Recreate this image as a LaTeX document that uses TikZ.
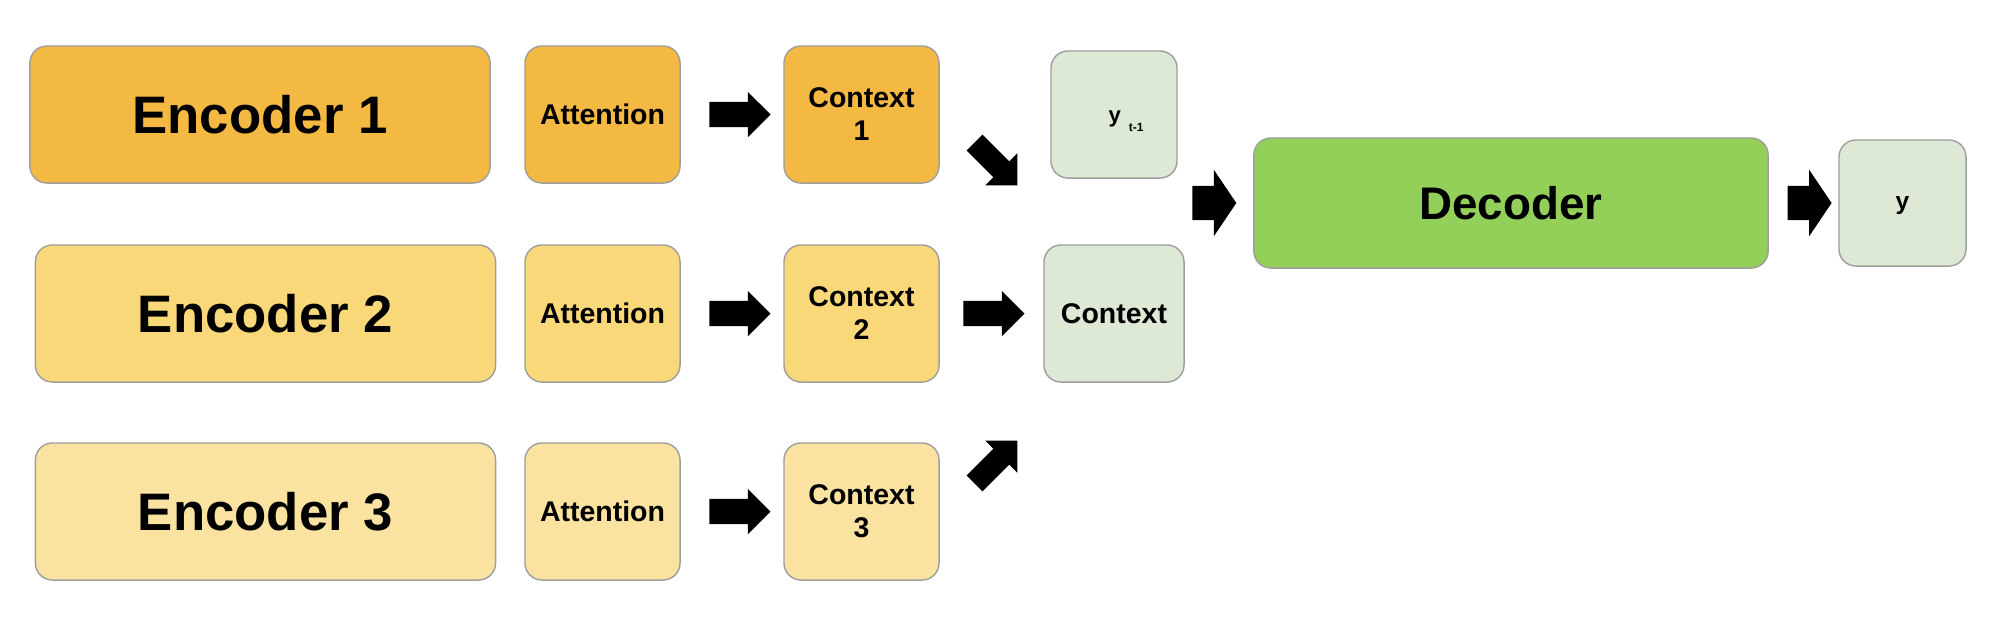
\documentclass[tikz,border=0pt]{standalone}
\usepackage{fontspec}
\setmainfont{Liberation Sans}
\usetikzlibrary{positioning, shapes.arrows}
\definecolor{encA}{HTML}{F4B942}
\definecolor{encB}{HTML}{F9D87A}
\definecolor{encC}{HTML}{FAE3A0}
\definecolor{pale}{HTML}{DDE8D5}
\definecolor{decgreen}{HTML}{93D05A}
\definecolor{edge}{HTML}{9E9E9E}

\begin{document}
\begin{tikzpicture}[x=0.01cm, y=-0.01cm]
    \tikzstyle{box} = [rectangle, rounded corners=0.17cm, draw=edge, line width=0.4pt, inner sep=0pt, align=center]
    \tikzstyle{bigbox} = [box, minimum width=4.6cm, minimum height=1.37cm, font=\fontsize{15}{18}\selectfont\bfseries]
    \tikzstyle{smallbox} = [box, minimum width=1.55cm, minimum height=1.37cm, font=\fontsize{8.1}{9.4}\selectfont\bfseries]
    \tikzstyle{flatarrow} = [single arrow, fill=black, inner xsep=0pt, inner ysep=0.12cm, text height=0pt, text depth=0pt, single arrow head indent=0pt, minimum height=0.61cm, single arrow head extend=0.1cm]
    \tikzstyle{fatarrow} = [single arrow, fill=black, inner xsep=0pt, inner ysep=0.165cm, text height=0pt, text depth=0pt, single arrow head indent=0pt, single arrow tip angle=112, minimum height=0.44cm, single arrow head extend=0.16cm]

    \useasboundingbox (0,0) rectangle (2002,620);

    % Encoders
    \node[bigbox, fill=encA] (enc1) at (260,114.5) {Encoder 1};
    \node[bigbox, fill=encB] (enc2) at (265.5,313.5) {Encoder 2};
    \node[bigbox, fill=encC] (enc3) at (265.5,511.5) {Encoder 3};

    % Attention and context columns
    \node[smallbox, fill=encA] (att1) at (602.5,114.5) {Attention};
    \node[smallbox, fill=encB] (att2) at (602.5,313.5) {Attention};
    \node[smallbox, fill=encC] (att3) at (602.5,511.5) {Attention};
    \node[smallbox, fill=encA] (ctx1) at (861.5,114.5) {Context\\1};
    \node[smallbox, fill=encB] (ctx2) at (861.5,313.5) {Context\\2};
    \node[smallbox, fill=encC] (ctx3) at (861.5,511.5) {Context\\3};

    % Decoder side
    \node[smallbox, fill=pale, minimum width=1.26cm, minimum height=1.27cm, text height=0.15cm, text depth=0cm] (yprev) at (1114,114.5)
        {\hspace{0.24cm}\fontsize{6.3}{7}\selectfont y\hspace{0.08cm}\raisebox{-0.09cm}{\fontsize{3.4}{4}\selectfont t-1}};
    \node[smallbox, fill=pale, minimum width=1.40cm] (ctx) at (1114,313.5) {Context};
    \node[box, fill=decgreen, minimum width=5.14cm, minimum height=1.30cm, font=\fontsize{13}{16}\selectfont\bfseries] (dec) at (1511,203) {Decoder};
    \node[smallbox, fill=pale, minimum width=1.27cm, minimum height=1.26cm, text depth=0cm, font=\fontsize{7}{8}\selectfont\bfseries] (y) at (1902.5,203) {y};

    % Arrows
    \node[flatarrow] (a1) [right=0.28cm of att1] {};
    \node[flatarrow] (a2) [right=0.28cm of att2] {};
    \node[flatarrow] (a3) [right=0.28cm of att3] {};
    \node[flatarrow, rotate=-45, inner ysep=0.105cm, minimum height=0.605cm, single arrow head extend=0.115cm] (b1) at (992,160) {};
    \node[flatarrow] (b2) [right=0.23cm of ctx2] {};
    \node[flatarrow, rotate=45, inner ysep=0.105cm, minimum height=0.605cm, single arrow head extend=0.115cm] (b3) at (992,466) {};
    \node[fatarrow] (c1) [left=0.16cm of dec] {};
    \node[fatarrow] (c2) [right=0.18cm of dec] {};
\end{tikzpicture}
\end{document}
